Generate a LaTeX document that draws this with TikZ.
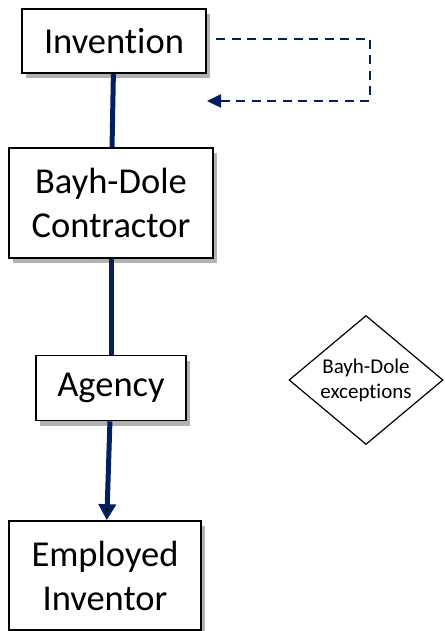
\documentclass[tikz,border=0pt]{standalone}
\usepackage{fontspec}
\setmainfont{Carlito}[Ligatures=NoCommon]
\usepackage{tikz}
\usetikzlibrary{shapes.geometric,shadows,arrows.meta}

\definecolor{navy}{RGB}{0,32,96}

\tikzset{
    stepbox/.style={rectangle,draw,line width=1.6pt,fill=white,inner sep=0pt,
        align=center,font=\fontsize{36.5}{44}\selectfont,
        drop shadow={shadow xshift=4pt,shadow yshift=-5pt,opacity=0.3,fill=black}},
    flow/.style={draw=navy,line width=5pt},
    loopback/.style={draw=navy,line width=2.5pt,dash pattern=on 9pt off 6.5pt}
}

\begin{document}
\begin{tikzpicture}[x=1pt,y=-1pt]
\useasboundingbox (0,0) rectangle (444,631);

\begin{scope}[every node/.style={stepbox}]
    \node[minimum width=184pt,minimum height=64pt] (inv) at (114,41){Invention};
    \node[minimum width=204pt,minimum height=110pt] (con) at (111,203){Bayh-Dole\\Contractor};
    \node[minimum width=150pt,minimum height=65pt] (agy) at (111,388){Agency};
    \node[minimum width=192pt,minimum height=109pt] (emp) at (105,575.5){Employed\\Inventor};
\end{scope}

    \node[diamond,draw,line width=1.2pt,aspect=1.19,inner sep=0pt,
        minimum width=154pt,minimum height=129pt,align=center,
        font=\fontsize{21}{25}\selectfont] (exc) at (366,380){Bayh-Dole\\exceptions};

    \path [flow] (inv) edge (con);
    \path [flow] (con) edge (agy);
    \path [flow,-{Triangle[width=17pt,length=16pt]}] (agy) edge (emp);

    \coordinate (loopstart) at (216,39);
    \coordinate (loopend) at (207,101);
    \draw [loopback,-{Triangle[width=13pt,length=14pt]}] (loopstart) -- ++(154,0) |- (loopend);

\end{tikzpicture}
\end{document}
